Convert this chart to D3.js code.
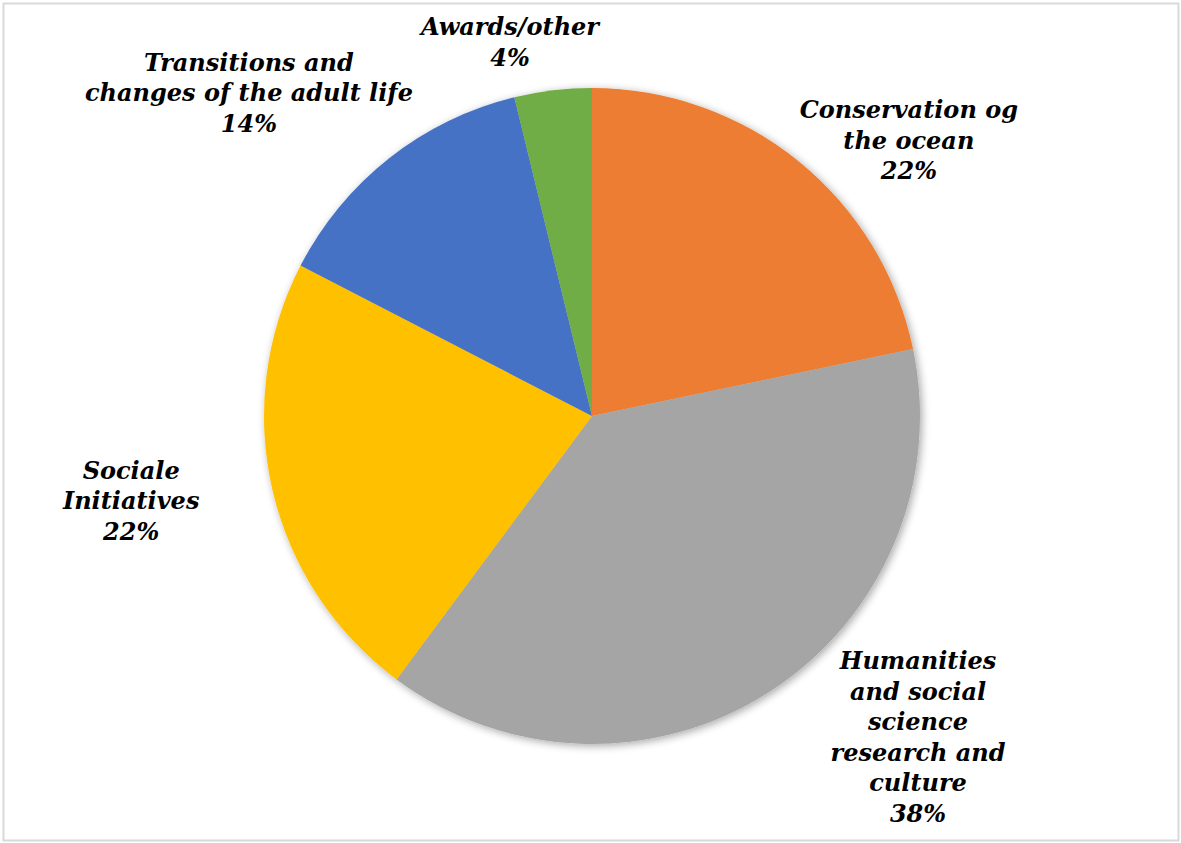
<!DOCTYPE html>
<html>
<head>
<meta charset="utf-8">
<script src="https://cdn.jsdelivr.net/npm/d3@7"></script>
<style>
  html, body { margin: 0; padding: 0; background: #fff; }
  svg { display: block; }
</style>
</head>
<body>
<script>
// ---- data ----
const categories = [
  "Conservation og the ocean",
  "Humanities and social science research and culture",
  "Sociale Initiatives",
  "Transitions and changes of the adult life",
  "Awards/other"
];
const shares = [21.7, 38.4, 22.4, 13.6, 3.8];
const labelLines = [
  ["Conservation og", "the ocean"],
  ["Humanities", "and social", "science", "research and", "culture"],
  ["Sociale", "Initiatives"],
  ["Transitions and", "changes of the adult life"],
  ["Awards/other"]
];
const colors = ["#ED7D31", "#A5A5A5", "#FFC000", "#4472C4", "#70AD47"];

// ---- layout ----
const W = 1181, H = 843;
const cx = 592, cy = 416, R = 328;
// label block centres relative to pie centre, in units of radius
const labelOffsets = [
  [0.966, -0.841],
  [0.994, 0.979],
  [-1.405, 0.259],
  [-1.046, -0.985],
  [-0.250, -1.140]
];
const lineH = 30.5;

const svg = d3.select("body").append("svg")
  .attr("width", W).attr("height", H);

svg.append("rect")
  .attr("x", 3.5).attr("y", 3.5)
  .attr("width", W - 6).attr("height", H - 6)
  .attr("fill", "#fff").attr("stroke", "#d9d9d9").attr("stroke-width", 2);

const defs = svg.append("defs");
const f = defs.append("filter").attr("id", "shadow")
  .attr("x", "-20%").attr("y", "-20%").attr("width", "140%").attr("height", "140%");
f.append("feGaussianBlur").attr("in", "SourceAlpha").attr("stdDeviation", 4).attr("result", "b");
f.append("feOffset").attr("in", "b").attr("dx", 2).attr("dy", 2).attr("result", "o");
f.append("feComponentTransfer").attr("in", "o").attr("result", "s")
  .append("feFuncA").attr("type", "linear").attr("slope", 0.35);
const m = f.append("feMerge");
m.append("feMergeNode").attr("in", "s");
m.append("feMergeNode").attr("in", "SourceGraphic");

const pie = d3.pie().sort(null).value(d => d);
const arcs = pie(shares);
const arc = d3.arc().innerRadius(0).outerRadius(R);

const g = svg.append("g").attr("transform", `translate(${cx},${cy})`);
const pg = g.append("g").attr("filter", "url(#shadow)");
pg.selectAll("path").data(arcs).enter().append("path")
  .attr("d", arc)
  .attr("fill", (d, i) => colors[i]);

const font = "'DejaVu Serif', Georgia, serif";
const total = d3.sum(shares);
arcs.forEach((d, i) => {
  const lines = labelLines[i].concat([Math.round(d.value / total * 100) + "%"]);
  const bx = labelOffsets[i][0] * R;
  const by = labelOffsets[i][1] * R;
  const top = by - (lines.length - 1) * lineH / 2;
  const t = g.append("text")
    .attr("text-anchor", "middle")
    .attr("font-family", font)
    .attr("font-weight", "bold")
    .attr("font-style", "italic")
    .attr("font-size", 24)
    .attr("fill", "#000");
  lines.forEach((ln, k) => {
    t.append("tspan")
      .attr("x", bx)
      .attr("y", top + k * lineH)
      .attr("dominant-baseline", "central")
      .text(ln);
  });
});
</script>
</body>
</html>
